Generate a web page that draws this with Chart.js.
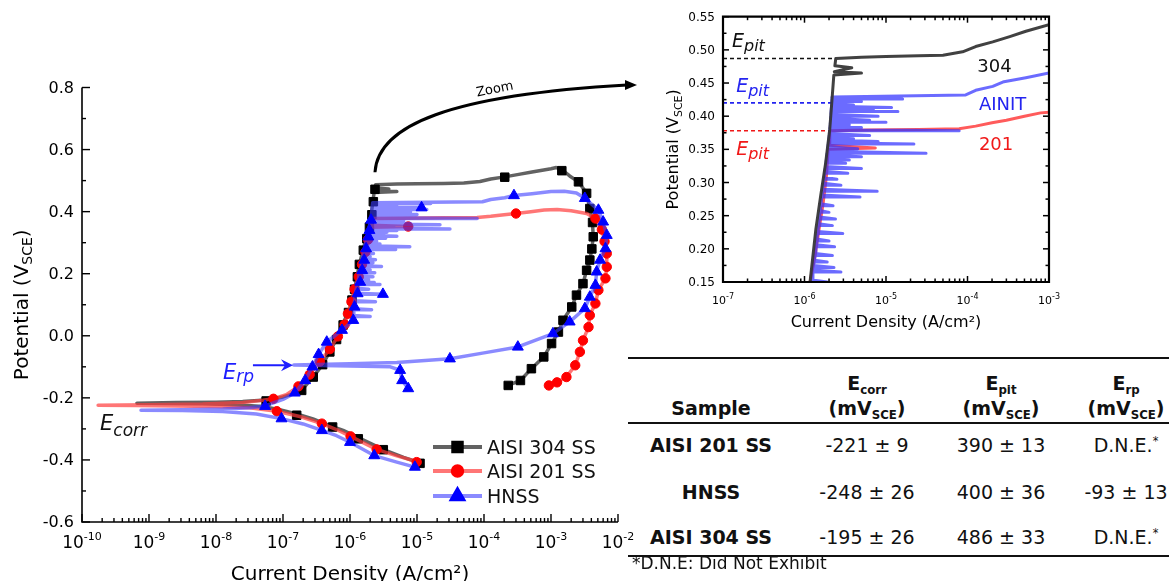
<!DOCTYPE html>
<html>
<head>
<meta charset="utf-8">
<script src="https://cdn.jsdelivr.net/npm/chart.js@4.4.1/dist/chart.umd.min.js"></script>
<style>
  html, body { margin: 0; padding: 0; background: #fff; overflow: hidden; }
  body { width: 1169px; height: 581px; position: relative; font-family: "DejaVu Sans", sans-serif; color: #111; }
  #main { position: absolute; left: 0; top: 0; }
  #inset { position: absolute; left: 640px; top: 0; }
  .rule { position: absolute; left: 628px; width: 541px; height: 2px; background: #111; }
  .cell { position: absolute; white-space: nowrap; transform: translateX(-50%); line-height: 1; }
  .note { position: absolute; white-space: nowrap; line-height: 1; }
  .sb { font-size: 0.62em; position: relative; top: 0.32em; }
  .sp { font-size: 0.6em; position: relative; top: -0.6em; }
</style>
</head>
<body>
<canvas id="main" width="640" height="581"></canvas>
<canvas id="inset" width="529" height="340"></canvas>
<div id="table"></div>
<script>
// [current density (A/cm2), potential (V_SCE)] along each scan
const curve304 = [
  [1.12e-5, -0.41], [6.3e-6, -0.392], [3.16e-6, -0.367], [1.38e-6, -0.33], [7.9e-7, -0.305], [5.1e-7, -0.29],
  [2.8e-7, -0.268], [1.6e-7, -0.252], [8.9e-8, -0.238], [5.0e-8, -0.228], [2.0e-8, -0.222], [6.3e-9, -0.219],
  [2.0e-9, -0.218], [6.6e-10, -0.217],
  [2.5e-9, -0.215], [1.0e-8, -0.214], [2.5e-8, -0.212], [5.5e-8, -0.207], [1.0e-7, -0.197], [1.4e-7, -0.187],
  [1.9e-7, -0.175], [2.8e-7, -0.133], [3.9e-7, -0.093], [5.0e-7, -0.05], [6.3e-7, -0.01], [7.9e-7, 0.04],
  [1.0e-6, 0.09], [1.17e-6, 0.15], [1.38e-6, 0.23], [1.58e-6, 0.28], [1.82e-6, 0.33], [2.04e-6, 0.38],
  [2.19e-6, 0.43], [2.29e-6, 0.462], [5.0e-6, 0.465], [2.32e-6, 0.467], [3.8e-6, 0.473], [2.36e-6, 0.476],
  [2.42e-6, 0.487],
  [5.0e-6, 0.489], [1.0e-5, 0.49], [2.5e-5, 0.491], [5.0e-5, 0.492], [8.7e-5, 0.497], [1.26e-4, 0.505],
  [2.04e-4, 0.512], [3.3e-4, 0.52], [5.2e-4, 0.528], [1.0e-3, 0.538], [1.2e-3, 0.542], [1.45e-3, 0.535],
  [1.9e-3, 0.515], [2.57e-3, 0.496], [3.4e-3, 0.459], [3.8e-3, 0.41], [4.17e-3, 0.36], [4.27e-3, 0.319],
  [4.07e-3, 0.28], [3.8e-3, 0.244], [3.4e-3, 0.211], [3.0e-3, 0.168], [2.4e-3, 0.131], [2.04e-3, 0.093],
  [1.51e-3, 0.05], [1.29e-3, 0.012], [1.02e-3, -0.025], [7.8e-4, -0.068], [5.1e-4, -0.106], [3.5e-4, -0.144],
  [2.3e-4, -0.16]
];
const marks304 = [
  [1.11e-5, -0.411], [3.14e-6, -0.367], [1.33e-6, -0.332], [5.5e-7, -0.294], [1.6e-7, -0.256],
  [5.6e-8, -0.21], [1.9e-7, -0.176], [2.83e-7, -0.133], [3.9e-7, -0.093], [5.0e-7, -0.052], [6.3e-7, -0.012],
  [7.9e-7, 0.035], [9.5e-7, 0.075], [1.07e-6, 0.115], [1.17e-6, 0.15], [1.29e-6, 0.19], [1.38e-6, 0.23],
  [1.58e-6, 0.276], [1.78e-6, 0.313], [1.95e-6, 0.35], [2.12e-6, 0.39], [2.23e-6, 0.432], [2.36e-6, 0.472],
  [2.04e-4, 0.511], [1.45e-3, 0.532],
  [2.57e-3, 0.496], [3.4e-3, 0.459], [3.8e-3, 0.41], [4.17e-3, 0.365], [4.27e-3, 0.319], [4.07e-3, 0.28],
  [3.8e-3, 0.244], [3.4e-3, 0.211], [3.0e-3, 0.168], [2.4e-3, 0.131], [2.04e-3, 0.093], [1.51e-3, 0.05],
  [1.29e-3, 0.012], [1.02e-3, -0.025], [7.8e-4, -0.068], [5.1e-4, -0.106], [3.5e-4, -0.144], [2.3e-4, -0.16]
];

const curve201 = [
  [9.9e-6, -0.405], [5.0e-6, -0.387], [2.5e-6, -0.366], [1.02e-6, -0.324], [6.3e-7, -0.302], [3.8e-7, -0.283],
  [1.78e-7, -0.26], [8.1e-8, -0.243], [3.16e-8, -0.232], [1.0e-8, -0.228], [2.5e-9, -0.226], [6.3e-10, -0.225],
  [1.74e-10, -0.224],
  [1.0e-9, -0.222], [6.3e-9, -0.22], [2.5e-8, -0.215], [5.0e-8, -0.208], [7.2e-8, -0.203], [1.12e-7, -0.19],
  [1.7e-7, -0.163], [2.5e-7, -0.125], [3.55e-7, -0.083], [5.0e-7, -0.043], [6.6e-7, -0.002], [8.3e-7, 0.036],
  [9.3e-7, 0.071], [1.05e-6, 0.11], [1.17e-6, 0.15], [1.35e-6, 0.19], [1.51e-6, 0.23], [1.7e-6, 0.27],
  [1.86e-6, 0.31], [1.95e-6, 0.35], [7.4e-6, 0.352], [2.0e-6, 0.356], [2.04e-6, 0.378],
  [6.3e-6, 0.379], [2.5e-5, 0.38], [7.9e-5, 0.381], [1.26e-4, 0.385], [2.0e-4, 0.39], [3.0e-4, 0.394],
  [5.0e-4, 0.4], [7.9e-4, 0.405], [1.23e-3, 0.407], [2.0e-3, 0.403], [3.4e-3, 0.394],
  [4.6e-3, 0.378], [5.75e-3, 0.342], [6.3e-3, 0.304], [6.8e-3, 0.265], [6.8e-3, 0.222], [6.5e-3, 0.185],
  [5.1e-3, 0.147], [4.6e-3, 0.104], [3.8e-3, 0.066], [3.63e-3, 0.028], [3.0e-3, -0.015], [2.7e-3, -0.052],
  [2.3e-3, -0.095], [1.7e-3, -0.133], [1.23e-3, -0.15], [9.3e-4, -0.16]
];
const marks201 = [
  [9.9e-6, -0.407], [2.5e-6, -0.366], [1.02e-6, -0.324], [3.8e-7, -0.283], [8.1e-8, -0.243],
  [7.2e-8, -0.203], [1.7e-7, -0.163], [2.5e-7, -0.125], [3.55e-7, -0.083], [5.0e-7, -0.043], [6.6e-7, -0.002],
  [8.3e-7, 0.036], [9.3e-7, 0.071], [1.05e-6, 0.11], [1.17e-6, 0.15], [1.35e-6, 0.19], [1.51e-6, 0.23],
  [1.7e-6, 0.27], [1.86e-6, 0.31], [7.4e-6, 0.352], [3.0e-4, 0.394],
  [4.6e-3, 0.378], [5.75e-3, 0.342], [6.3e-3, 0.304], [6.8e-3, 0.265], [6.8e-3, 0.222], [6.5e-3, 0.185],
  [5.1e-3, 0.147], [4.6e-3, 0.104], [3.8e-3, 0.066], [3.63e-3, 0.028], [3.0e-3, -0.015], [2.7e-3, -0.052],
  [2.3e-3, -0.095], [1.7e-3, -0.133], [1.23e-3, -0.15], [9.3e-4, -0.16]
];

const curveHNSS = [
  [9.3e-6, -0.423], [5.0e-6, -0.407], [2.3e-6, -0.386], [1.0e-6, -0.343], [6.3e-7, -0.322], [3.8e-7, -0.305],
  [2.0e-7, -0.284], [9.5e-8, -0.267], [4.0e-8, -0.252], [1.26e-8, -0.244], [3.16e-9, -0.241], [7.6e-10, -0.24],
  [3.16e-9, -0.238], [1.26e-8, -0.236], [3.16e-8, -0.232], [5.4e-8, -0.226], [1.0e-7, -0.205], [1.5e-7, -0.184],
  [2.14e-7, -0.144], [2.75e-7, -0.10], [3.4e-7, -0.06], [4.5e-7, -0.02], [7.6e-7, 0.018], [1.12e-6, 0.05],
  [1.13e-6, 0.062], [2.0e-6, 0.062], [1.13e-6, 0.065],
  [1.14e-6, 0.084], [2.1e-6, 0.084], [1.14e-6, 0.087],
  [1.16e-6, 0.11], [2.4e-6, 0.11], [1.17e-6, 0.113],
  [1.2e-6, 0.134], [3.1e-6, 0.134], [1.21e-6, 0.137],
  [1.23e-6, 0.15], [1.9e-6, 0.15], [1.24e-6, 0.153],
  [1.27e-6, 0.165], [2.8e-6, 0.165], [1.27e-6, 0.168],
  [1.29e-6, 0.172], [2.3e-6, 0.172], [1.3e-6, 0.175],
  [1.32e-6, 0.18], [1.9e-6, 0.18], [1.33e-6, 0.183],
  [1.35e-6, 0.19], [2.2e-6, 0.19], [1.36e-6, 0.193],
  [1.38e-6, 0.203], [2.34e-6, 0.203], [1.39e-6, 0.206],
  [1.41e-6, 0.212], [2.0e-6, 0.212], [1.42e-6, 0.215],
  [1.45e-6, 0.223], [2.95e-6, 0.223], [1.46e-6, 0.226],
  [1.49e-6, 0.235], [2.2e-6, 0.235], [1.5e-6, 0.238],
  [1.52e-6, 0.245], [2.4e-6, 0.245], [1.53e-6, 0.248],
  [1.55e-6, 0.255], [2.0e-6, 0.255], [1.56e-6, 0.258],
  [1.58e-6, 0.265], [2.24e-6, 0.265], [1.59e-6, 0.268],
  [1.63e-6, 0.278], [4.8e-6, 0.278], [1.64e-6, 0.281],
  [1.66e-6, 0.287], [7.8e-6, 0.287], [1.67e-6, 0.29],
  [1.7e-6, 0.296], [2.8e-6, 0.296], [1.71e-6, 0.299],
  [1.73e-6, 0.305], [2.5e-6, 0.305], [1.74e-6, 0.308],
  [1.77e-6, 0.314], [3.4e-6, 0.314], [1.78e-6, 0.317],
  [1.8e-6, 0.321], [5.0e-6, 0.321], [1.81e-6, 0.324],
  [1.83e-6, 0.329], [3.2e-6, 0.329], [1.84e-6, 0.331],
  [1.85e-6, 0.334], [3.55e-6, 0.334], [1.86e-6, 0.336],
  [1.87e-6, 0.339], [5.0e-6, 0.339], [1.88e-6, 0.341],
  [1.9e-6, 0.344], [3.1e-5, 0.344], [1.91e-6, 0.347],
  [1.93e-6, 0.351], [4.5e-6, 0.351], [1.94e-6, 0.354],
  [1.96e-6, 0.358], [2.2e-5, 0.358], [1.96e-6, 0.36],
  [1.97e-6, 0.362], [8.0e-6, 0.362], [1.98e-6, 0.364],
  [1.99e-6, 0.366], [4.0e-6, 0.366], [2.0e-6, 0.368],
  [2.01e-6, 0.371], [6.3e-6, 0.371], [2.02e-6, 0.374],
  [2.04e-6, 0.378], [7.9e-5, 0.378], [2.04e-6, 0.38],
  [2.05e-6, 0.383], [5.0e-6, 0.383], [2.06e-6, 0.385],
  [2.07e-6, 0.387], [3.55e-6, 0.387], [2.07e-6, 0.389],
  [2.08e-6, 0.391], [1.0e-5, 0.391], [2.08e-6, 0.392],
  [2.09e-6, 0.394], [6.3e-6, 0.394], [2.09e-6, 0.397],
  [2.1e-6, 0.40], [8.0e-6, 0.40], [2.11e-6, 0.403],
  [2.12e-6, 0.407], [1.4e-5, 0.407], [2.12e-6, 0.408],
  [2.13e-6, 0.41], [7.0e-6, 0.41], [2.13e-6, 0.411],
  [2.14e-6, 0.413], [1.17e-5, 0.413], [2.14e-6, 0.415],
  [2.15e-6, 0.417], [4.0e-6, 0.417], [2.15e-6, 0.419],
  [2.16e-6, 0.422], [5.0e-6, 0.422], [2.16e-6, 0.424],
  [2.17e-6, 0.426], [1.6e-5, 0.426], [2.17e-6, 0.428],
  [2.18e-6, 0.429], [9.5e-5, 0.432],
  [1.26e-4, 0.439], [2.04e-4, 0.445], [2.8e-4, 0.452], [5.2e-4, 0.458], [1.0e-3, 0.465], [1.58e-3, 0.466],
  [2.4e-3, 0.46], [3.2e-3, 0.443], [5.1e-3, 0.405], [6.0e-3, 0.367], [6.8e-3, 0.324], [6.5e-3, 0.281],
  [5.4e-3, 0.244], [4.8e-3, 0.206], [4.6e-3, 0.163], [3.8e-3, 0.125], [3.2e-3, 0.088], [1.9e-3, 0.045],
  [1.07e-3, 0.007], [3.2e-4, -0.036], [1.0e-4, -0.055], [3.1e-5, -0.074], [5.0e-6, -0.086], [1.0e-6, -0.09],
  [1.45e-7, -0.094], [1.0e-6, -0.097], [4.0e-6, -0.1], [5.6e-6, -0.111], [6.0e-6, -0.144], [7.4e-6, -0.17]
];
const marksHNSS = [
  [9.3e-6, -0.423], [2.3e-6, -0.386], [1.0e-6, -0.343], [3.8e-7, -0.305], [9.5e-8, -0.267],
  [5.4e-8, -0.227], [1.5e-7, -0.184], [2.14e-7, -0.144], [2.75e-7, -0.10], [3.4e-7, -0.06], [4.5e-7, -0.02],
  [7.6e-7, 0.018], [1.12e-6, 0.05], [1.17e-6, 0.093], [1.3e-6, 0.136], [3.1e-6, 0.134], [1.42e-6, 0.173],
  [1.52e-6, 0.211], [1.63e-6, 0.244], [1.74e-6, 0.281], [1.88e-6, 0.319], [1.95e-6, 0.34], [2.06e-6, 0.373],
  [1.17e-5, 0.413], [2.8e-4, 0.452],
  [3.2e-3, 0.443], [5.1e-3, 0.405], [6.0e-3, 0.367], [6.8e-3, 0.324], [6.5e-3, 0.281], [5.4e-3, 0.244],
  [4.8e-3, 0.206], [4.6e-3, 0.163], [3.8e-3, 0.125], [3.2e-3, 0.088], [1.9e-3, 0.045], [1.07e-3, 0.007],
  [3.2e-4, -0.036], [3.1e-5, -0.074], [5.6e-6, -0.111], [6.0e-6, -0.144], [7.4e-6, -0.17]
];

const legendNames = ['AISI 304 SS', 'AISI 201 SS', 'HNSS'];
const insetNames = ['304', 'AINIT', '201'];

const mainXDecades = [-10, -9, -8, -7, -6, -5, -4, -3, -2];
const mainYTicks = [-0.6, -0.4, -0.2, 0.0, 0.2, 0.4, 0.6, 0.8];
const insetXDecades = [-7, -6, -5, -4, -3];
const insetYTicks = [0.15, 0.20, 0.25, 0.30, 0.35, 0.40, 0.45, 0.50, 0.55];

// E_pit markers in the zoom: 304, HNSS, 201
const epitLevels = [0.487, 0.42, 0.378];
const epitReach = [2.42e-6, 2.16e-6, 2.04e-6];

const tableSamples = ['AISI 201 SS', 'HNSS', 'AISI 304 SS'];
const tableEcorr = ['-221 ± 9', '-248 ± 26', '-195 ± 26'];
const tableEpit = ['390 ± 13', '400 ± 36', '486 ± 33'];
const tableErp = ['D.N.E.*', '-93 ± 13', 'D.N.E.*'];

// ---- styling ----
const F = '"DejaVu Sans", sans-serif';
const series = [
  { curve: curve304, marks: marks304, line: 'rgba(70,70,70,0.85)', zoomLine: 'rgba(55,55,55,0.95)', mark: '#000', style: 'rect', r: 6 },
  { curve: curve201, marks: marks201, line: 'rgba(255,60,60,0.7)', zoomLine: 'rgba(255,50,50,0.8)', mark: '#ff0000', style: 'circle', r: 4.7 },
  { curve: curveHNSS, marks: marksHNSS, line: 'rgba(60,60,255,0.6)', zoomLine: 'rgba(50,50,255,0.72)', mark: '#0000ff', style: 'triangle', r: 6.3 }
];
const labelColors = ['#111', '#2424f0', '#f01818'];

const pts = arr => arr.map(p => ({ x: p[0], y: p[1] }));

function rich(ctx, parts, x, y, align) {
  let w = 0;
  parts.forEach(p => { ctx.font = p.f; w += ctx.measureText(p.t).width; });
  let cx = align === 'center' ? x - w / 2 : align === 'right' ? x - w : x;
  parts.forEach(p => {
    ctx.font = p.f;
    ctx.fillText(p.t, cx, y + (p.dy || 0));
    cx += ctx.measureText(p.t).width;
  });
}

function axesPlugin(o) {
  return {
    id: 'axes' + o.id,
    afterDatasetsDraw(chart) {
      const { ctx, chartArea: a, scales: { x, y } } = chart;
      ctx.save();
      ctx.strokeStyle = '#000';
      ctx.fillStyle = '#000';
      ctx.textAlign = 'left';
      ctx.textBaseline = 'alphabetic';
      ctx.lineWidth = o.lw;
      ctx.beginPath();
      if (o.box) ctx.rect(a.left, a.top, a.right - a.left, a.bottom - a.top);
      else { ctx.moveTo(a.left, a.top); ctx.lineTo(a.left, a.bottom); ctx.lineTo(a.right, a.bottom); }
      ctx.stroke();

      ctx.lineWidth = o.tw;
      const tick = (px, py, dx, dy) => { ctx.beginPath(); ctx.moveTo(px, py); ctx.lineTo(px + dx, py + dy); ctx.stroke(); };

      o.xDecades.forEach((d, k) => {
        const px = x.getPixelForValue(Math.pow(10, d));
        tick(px, a.bottom, 0, -o.major);
        if (o.box) tick(px, a.top, 0, o.major);
        if (k < o.xDecades.length - 1) {
          for (let m = 2; m <= 9; m++) {
            const mx = x.getPixelForValue(m * Math.pow(10, d));
            tick(mx, a.bottom, 0, -o.minor);
            if (o.box) tick(mx, a.top, 0, o.minor);
          }
        }
        rich(ctx, [
          { t: '10', f: o.xFont + 'px ' + F },
          { t: String(d), f: o.xSup + 'px ' + F, dy: -o.xRaise }
        ], px, a.bottom + o.xBase, 'center');
      });

      o.yTicks.forEach((v, k) => {
        const py = y.getPixelForValue(v);
        tick(a.left, py, o.major, 0);
        if (o.box) tick(a.right, py, -o.major, 0);
        if (k < o.yTicks.length - 1) {
          const my = y.getPixelForValue((v + o.yTicks[k + 1]) / 2);
          tick(a.left, my, o.minor, 0);
          if (o.box) tick(a.right, my, -o.minor, 0);
        }
        ctx.font = o.yFont + 'px ' + F;
        ctx.textAlign = 'right';
        ctx.textBaseline = 'middle';
        ctx.fillText(v.toFixed(o.yDigits), a.left - o.yGap, py + 1);
        ctx.textAlign = 'left';
        ctx.textBaseline = 'alphabetic';
      });

      ctx.font = o.titleSize + 'px ' + F;
      ctx.textAlign = 'center';
      ctx.fillText('Current Density (A/cm²)', (a.left + a.right) / 2, o.xTitleY);
      ctx.textAlign = 'left';

      ctx.translate(o.yTitleX, (a.top + a.bottom) / 2);
      ctx.rotate(-Math.PI / 2);
      rich(ctx, [
        { t: 'Potential (V', f: o.titleSize + 'px ' + F },
        { t: 'SCE', f: Math.round(o.titleSize * 0.68) + 'px ' + F, dy: o.titleSize * 0.22 },
        { t: ')', f: o.titleSize + 'px ' + F }
      ], 0, 0, 'center');
      ctx.restore();
    }
  };
}

function markerAt(ctx, s, px, py) {
  ctx.fillStyle = s.mark;
  ctx.strokeStyle = s.mark;
  Chart.helpers.drawPoint(ctx, { pointStyle: s.style, radius: s.r, rotation: 0, borderWidth: 1 }, px, py);
}

// annotations of the main plot
const ecorrLabel = [1.86e-10, -0.305];
const erpLabel = [1.27e-8, -0.140];
const erpArrow = [3.56e-8, 1.41e-7, -0.095];
const zoomFrom = [2.36e-6, 0.527];
const zoomTo = [1.92e-2, 0.808];

const mainNotes = {
  id: 'mainNotes',
  afterDraw(chart) {
    const { ctx, scales: { x, y } } = chart;
    ctx.save();
    ctx.textAlign = 'left';
    ctx.textBaseline = 'alphabetic';

    ctx.fillStyle = '#111';
    rich(ctx, [
      { t: 'E', f: 'italic 21px ' + F },
      { t: 'corr', f: 'italic 17px ' + F, dy: 6 }
    ], x.getPixelForValue(ecorrLabel[0]), y.getPixelForValue(ecorrLabel[1]), 'left');

    ctx.fillStyle = '#1e1eff';
    ctx.strokeStyle = '#1e1eff';
    rich(ctx, [
      { t: 'E', f: 'italic 21px ' + F },
      { t: 'rp', f: 'italic 17px ' + F, dy: 3 }
    ], x.getPixelForValue(erpLabel[0]), y.getPixelForValue(erpLabel[1]), 'left');
    const ax0 = x.getPixelForValue(erpArrow[0]);
    const ax1 = x.getPixelForValue(erpArrow[1]);
    const ay = y.getPixelForValue(erpArrow[2]);
    ctx.lineWidth = 2.2;
    ctx.beginPath(); ctx.moveTo(ax0, ay); ctx.lineTo(ax1 - 4, ay); ctx.stroke();
    ctx.beginPath();
    ctx.moveTo(ax1, ay); ctx.lineTo(ax1 - 12, ay - 6); ctx.lineTo(ax1 - 8, ay); ctx.lineTo(ax1 - 12, ay + 6);
    ctx.closePath(); ctx.fill();

    // curved "Zoom" arrow towards the inset
    const x0 = x.getPixelForValue(zoomFrom[0]), y0 = y.getPixelForValue(zoomFrom[1]);
    const x3 = x.getPixelForValue(zoomTo[0]), y3 = y.getPixelForValue(zoomTo[1]);
    const dx = x3 - x0, dy = y3 - y0;
    ctx.strokeStyle = '#000';
    ctx.fillStyle = '#000';
    ctx.lineWidth = 3;
    ctx.beginPath();
    ctx.moveTo(x0, y0);
    ctx.bezierCurveTo(x0 + 0.011 * dx, y0 + 0.54 * dy, x0 + 0.286 * dx, y0 + 0.885 * dy, x3 - 10, y3);
    ctx.stroke();
    ctx.beginPath();
    ctx.moveTo(x3, y3); ctx.lineTo(x3 - 12, y3 - 5); ctx.lineTo(x3 - 12, y3 + 5); ctx.closePath(); ctx.fill();
    ctx.save();
    ctx.translate(x0 + 0.46 * dx, y0 + 0.91 * dy);
    ctx.rotate(-0.2);
    ctx.font = '13px ' + F;
    ctx.textAlign = 'center';
    ctx.fillText('Zoom', 0, 0);
    ctx.restore();

    // legend
    const lx0 = 433, lx1 = 482, rows = [447, 471, 496];
    series.forEach((s, k) => {
      ctx.strokeStyle = s.line;
      ctx.lineWidth = 4;
      ctx.beginPath(); ctx.moveTo(lx0, rows[k]); ctx.lineTo(lx1, rows[k]); ctx.stroke();
      markerAt(ctx, s, (lx0 + lx1) / 2, rows[k]);
      ctx.fillStyle = '#111';
      ctx.font = '19px ' + F;
      ctx.textAlign = 'left';
      ctx.fillText(legendNames[k], 487, rows[k] + 7);
    });
    ctx.restore();
  }
};

const mainSets = [];
series.forEach((s, k) => {
  mainSets.push({
    data: pts(s.curve), showLine: true, borderColor: s.line, borderWidth: 3.5, pointRadius: 0,
    tension: 0, borderJoinStyle: 'round', borderCapStyle: 'round', order: (2 - k) * 2 + 1
  });
  mainSets.push({
    data: pts(s.marks), showLine: false, pointStyle: s.style, pointRadius: s.r,
    backgroundColor: s.mark, borderColor: s.mark, borderWidth: 1, order: (2 - k) * 2
  });
});

new Chart(document.getElementById('main'), {
  type: 'scatter',
  data: { datasets: mainSets },
  options: {
    responsive: false,
    animation: false,
    events: [],
    layout: { padding: { left: 82, right: 22, top: 87.5, bottom: 59 } },
    plugins: { legend: { display: false }, tooltip: { enabled: false } },
    scales: {
      x: { type: 'logarithmic', min: 1e-10, max: 1e-2, display: false },
      y: { type: 'linear', min: -0.6, max: 0.8, display: false }
    }
  },
  plugins: [axesPlugin({
    id: 'Main', box: false, lw: 1.6, tw: 1.4, major: 8, minor: 4,
    xDecades: mainXDecades, yTicks: mainYTicks, yDigits: 1,
    yFont: 16, yGap: 8, xFont: 17, xSup: 11, xBase: 26, xRaise: 8,
    titleSize: 20, xTitleY: 580, yTitleX: 28
  }), mainNotes]
});

// ---- zoomed inset ----
const insetLabels = [[1.29e-7, 0.505], [1.45e-7, 0.437], [1.45e-7, 0.341]];
const insetNameAt = [[1.32e-4, 0.467], [1.38e-4, 0.409], [1.38e-4, 0.349]];

const insetNotes = {
  id: 'insetNotes',
  beforeDatasetsDraw(chart) {
    const { ctx, chartArea: a, scales: { x, y } } = chart;
    ctx.save();
    ctx.lineWidth = 1.6;
    ctx.setLineDash([4, 3]);
    epitLevels.forEach((v, k) => {
      ctx.strokeStyle = labelColors[k];
      const py = y.getPixelForValue(v);
      ctx.beginPath(); ctx.moveTo(a.left, py); ctx.lineTo(x.getPixelForValue(epitReach[k]), py); ctx.stroke();
    });
    ctx.restore();
  },
  afterDraw(chart) {
    const { ctx, scales: { x, y } } = chart;
    ctx.save();
    ctx.textAlign = 'left';
    ctx.textBaseline = 'alphabetic';
    insetLabels.forEach((p, k) => {
      ctx.fillStyle = labelColors[k];
      rich(ctx, [
        { t: 'E', f: 'italic 19px ' + F },
        { t: 'pit', f: 'italic 16px ' + F, dy: 4 }
      ], x.getPixelForValue(p[0]), y.getPixelForValue(p[1]), 'left');
    });
    insetNameAt.forEach((p, k) => {
      ctx.fillStyle = labelColors[k];
      ctx.font = '18px ' + F;
      ctx.fillText(insetNames[k], x.getPixelForValue(p[0]), y.getPixelForValue(p[1]));
    });
    ctx.restore();
  }
};

const insetOrder = [0, 2, 1];
new Chart(document.getElementById('inset'), {
  type: 'scatter',
  data: {
    datasets: series.map((s, k) => ({
      data: pts(s.curve), showLine: true, borderColor: s.zoomLine, borderWidth: 3, pointRadius: 0,
      tension: 0, borderJoinStyle: 'round', order: insetOrder[k]
    }))
  },
  options: {
    responsive: false,
    animation: false,
    events: [],
    layout: { padding: { left: 83, right: 120, top: 16.7, bottom: 58 } },
    plugins: { legend: { display: false }, tooltip: { enabled: false } },
    scales: {
      x: { type: 'logarithmic', min: 1e-7, max: 1e-3, display: false },
      y: { type: 'linear', min: 0.15, max: 0.55, display: false }
    }
  },
  plugins: [insetNotes, axesPlugin({
    id: 'Inset', box: true, lw: 2.2, tw: 1.5, major: 6, minor: 3.5,
    xDecades: insetXDecades, yTicks: insetYTicks, yDigits: 2,
    yFont: 12, yGap: 8, xFont: 11, xSup: 8, xBase: 22, xRaise: 5,
    titleSize: 16, xTitleY: 327, yTitleX: 38
  })]
});

// ---- summary table ----
const tbl = document.getElementById('table');
const colX = [711, 867, 1001, 1126];
const rowY = [452, 499, 544];
const fs = 19;

function cell(html, cx, base, bold) {
  const d = document.createElement('div');
  d.className = 'cell';
  d.style.left = cx + 'px';
  d.style.top = (base - 0.846 * fs) + 'px';
  d.style.fontSize = fs + 'px';
  if (bold) d.style.fontWeight = 'bold';
  d.innerHTML = html;
  tbl.appendChild(d);
}
const star = s => s.replace('*', '<span class="sp">*</span>');

[357, 422, 555].forEach(t => {
  const r = document.createElement('div');
  r.className = 'rule';
  r.style.top = t + 'px';
  tbl.appendChild(r);
});

cell('Sample', colX[0], 415, true);
['corr', 'pit', 'rp'].forEach((sub, k) => {
  cell('E<span class="sb">' + sub + '</span>', colX[k + 1], 390, true);
  cell('(mV<span class="sb">SCE</span>)', colX[k + 1], 415, true);
});
tableSamples.forEach((name, r) => {
  cell(name, colX[0], rowY[r], true);
  cell(tableEcorr[r], colX[1], rowY[r], false);
  cell(tableEpit[r], colX[2], rowY[r], false);
  cell(star(tableErp[r]), colX[3], rowY[r], false);
});
const note = document.createElement('div');
note.className = 'note';
note.style.left = '632px';
note.style.top = (569 - 0.846 * 17) + 'px';
note.style.fontSize = '17px';
note.textContent = '*D.N.E: Did Not Exhibit';
tbl.appendChild(note);
</script>
</body>
</html>
